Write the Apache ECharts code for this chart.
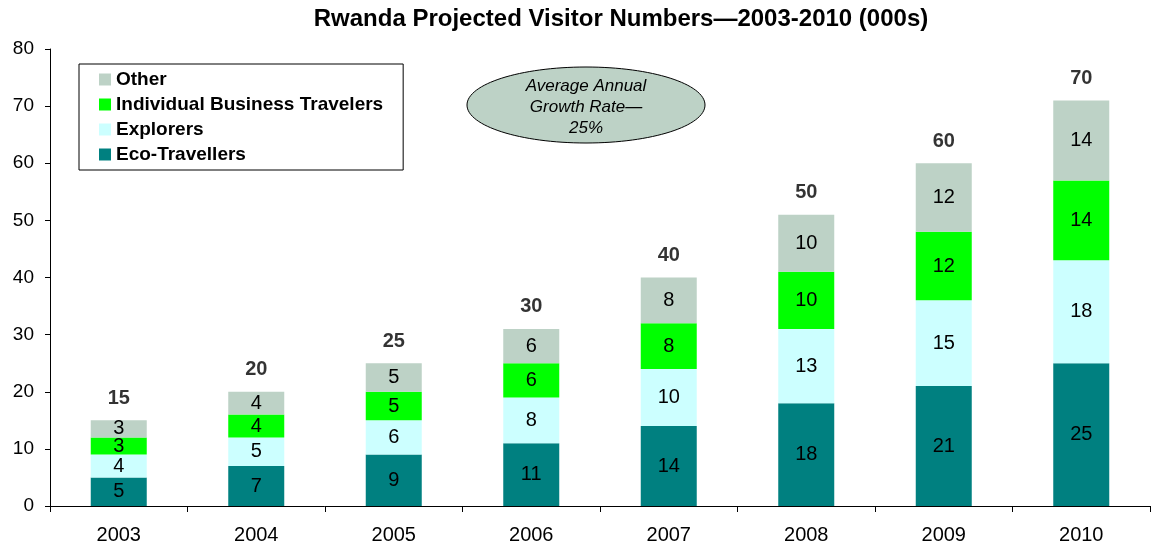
<!DOCTYPE html>
<html><head><meta charset="utf-8">
<script src="https://cdn.jsdelivr.net/npm/echarts@6/dist/echarts.min.js"></script>
<style>html,body{margin:0;padding:0;background:#fff}#c{width:1156px;height:548px}</style>
</head><body><div id="c"></div>
<script>
const years = ['2003','2004','2005','2006','2007','2008','2009','2010'];
const eco = [5,7,9,11,14,18,21,25];
const explorers = [4,5,6,8,10,13,15,18];
const business = [3,4,5,6,8,10,12,14];
const other = [3,4,5,6,8,10,12,14];
const totalLabels = [15,20,25,30,40,50,60,70];
const yTicks = [0,10,20,30,40,50,60,70,80];

const stackTops = years.map((_, i) => eco[i] + explorers[i] + business[i] + other[i]);
const font = 'Liberation Sans, Arial, sans-serif';
const segLabel = {show: true, position: 'inside', color: '#000', fontSize: 20, fontFamily: font};
function seg(name, data, color) {
  return {name, type: 'bar', stack: 't', data, barWidth: 56,
    itemStyle: {color}, label: segLabel, emphasis: {disabled: true}};
}
const chart = echarts.init(document.getElementById('c'), null, {renderer: 'canvas'});
chart.setOption({
  animation: false,
  title: {text: 'Rwanda Projected Visitor Numbers\u20142003-2010 (000s)', left: 616, textAlign: 'center', top: 2,
    textStyle: {fontSize: 24, fontWeight: 'bold', fontFamily: font, color: '#000'}},
  grid: {left: 50, right: 6, top: 49, bottom: 42},
  legend: {
    data: ['Other', 'Individual Business Travelers', 'Explorers', 'Eco-Travellers'],
    orient: 'vertical', left: 79, top: 64, itemWidth: 12, itemHeight: 12, itemGap: 6,
    borderColor: '#000', borderWidth: 1, padding: [6, 20, 6, 20],
    textStyle: {fontSize: 19, fontWeight: 'bold', fontFamily: font, color: '#000'},
    icon: 'rect'
  },
  xAxis: {type: 'category', data: years,
    axisLine: {lineStyle: {color: '#000'}}, axisTick: {show: true, length: 6, lineStyle: {color: '#000'}},
    axisLabel: {fontSize: 20, fontFamily: font, color: '#000', margin: 19}},
  yAxis: {type: 'value', min: yTicks[0], max: yTicks[yTicks.length-1], interval: 10,
    axisLine: {show: true, lineStyle: {color: '#000'}}, axisTick: {show: true, length: 5, lineStyle: {color: '#000'}},
    splitLine: {show: false},
    axisLabel: {fontSize: 19, fontFamily: font, color: '#000', margin: 16}},
  series: [
    seg('Eco-Travellers', eco, '#008080'),
    seg('Explorers', explorers, '#CCFFFF'),
    seg('Individual Business Travelers', business, '#00FF00'),
    seg('Other', other, '#BDD2C6'),
    {name: 'total', type: 'scatter', data: stackTops, symbolSize: 0, silent: true,
      label: {show: true, position: 'top', distance: 12, color: '#000', fontSize: 20, fontWeight: 'bold', fontFamily: font,
        formatter: p => String(totalLabels[p.dataIndex])}}
  ],
  graphic: [
    {type: 'ellipse', shape: {cx: 586, cy: 105, rx: 119, ry: 38},
      style: {fill: '#BDD2C6', stroke: '#000', lineWidth: 1}},
    {type: 'text', x: 586, y: 107,
      style: {text: 'Average Annual\nGrowth Rate\u2014\n25%', align: 'center', verticalAlign: 'middle',
        font: 'italic 17px Liberation Sans, Arial, sans-serif', lineHeight: 21, fill: '#000'}}
  ]
});
</script></body></html>
